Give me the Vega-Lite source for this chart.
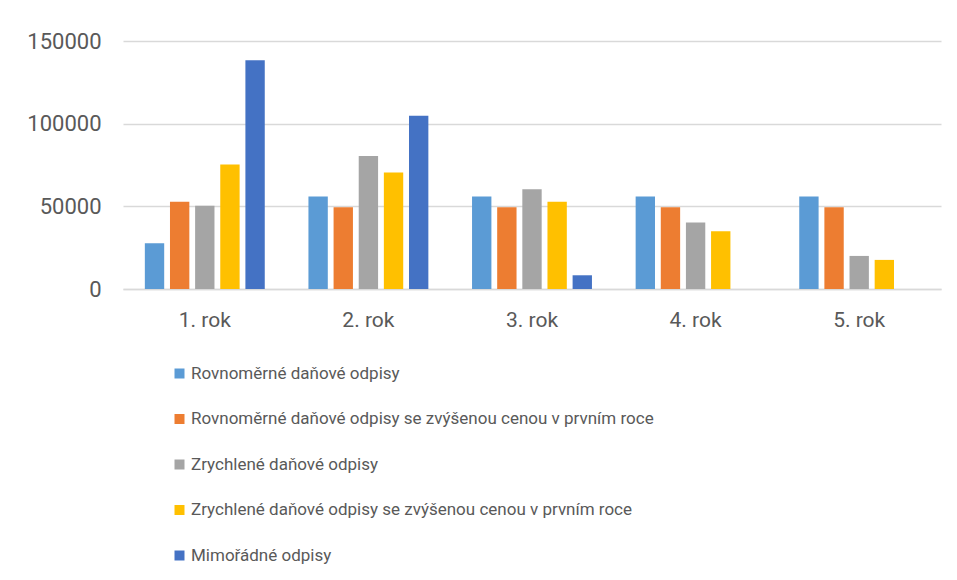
{
  "$schema": "https://vega.github.io/schema/vega-lite/v6.json",
  "width": 818,
  "height": 248,
  "autosize": {"type": "none"},
  "padding": {"left": 123, "top": 41, "right": 16, "bottom": 291},
  "background": "white",
  "config": {
    "view": {"stroke": null},
    "font": "Roboto, sans-serif"
  },
  "data": {
    "values": [
      {"rok": "1. rok", "serie": "Rovnoměrné daňové odpisy", "hodnota": 27600},
      {"rok": "1. rok", "serie": "Rovnoměrné daňové odpisy se zvýšenou cenou v prvním roce", "hodnota": 52700},
      {"rok": "1. rok", "serie": "Zrychlené daňové odpisy", "hodnota": 50300},
      {"rok": "1. rok", "serie": "Zrychlené daňové odpisy se zvýšenou cenou v prvním roce", "hodnota": 75300},
      {"rok": "1. rok", "serie": "Mimořádné odpisy", "hodnota": 138300},
      {"rok": "2. rok", "serie": "Rovnoměrné daňové odpisy", "hodnota": 55900},
      {"rok": "2. rok", "serie": "Rovnoměrné daňové odpisy se zvýšenou cenou v prvním roce", "hodnota": 49500},
      {"rok": "2. rok", "serie": "Zrychlené daňové odpisy", "hodnota": 80500},
      {"rok": "2. rok", "serie": "Zrychlené daňové odpisy se zvýšenou cenou v prvním roce", "hodnota": 70500},
      {"rok": "2. rok", "serie": "Mimořádné odpisy", "hodnota": 104800},
      {"rok": "3. rok", "serie": "Rovnoměrné daňové odpisy", "hodnota": 55900},
      {"rok": "3. rok", "serie": "Rovnoměrné daňové odpisy se zvýšenou cenou v prvním roce", "hodnota": 49500},
      {"rok": "3. rok", "serie": "Zrychlené daňové odpisy", "hodnota": 60300},
      {"rok": "3. rok", "serie": "Zrychlené daňové odpisy se zvýšenou cenou v prvním roce", "hodnota": 52700},
      {"rok": "3. rok", "serie": "Mimořádné odpisy", "hodnota": 8300},
      {"rok": "4. rok", "serie": "Rovnoměrné daňové odpisy", "hodnota": 55900},
      {"rok": "4. rok", "serie": "Rovnoměrné daňové odpisy se zvýšenou cenou v prvním roce", "hodnota": 49500},
      {"rok": "4. rok", "serie": "Zrychlené daňové odpisy", "hodnota": 40200},
      {"rok": "4. rok", "serie": "Zrychlené daňové odpisy se zvýšenou cenou v prvním roce", "hodnota": 34900},
      {"rok": "4. rok", "serie": "Mimořádné odpisy", "hodnota": 0},
      {"rok": "5. rok", "serie": "Rovnoměrné daňové odpisy", "hodnota": 55900},
      {"rok": "5. rok", "serie": "Rovnoměrné daňové odpisy se zvýšenou cenou v prvním roce", "hodnota": 49500},
      {"rok": "5. rok", "serie": "Zrychlené daňové odpisy", "hodnota": 20000},
      {"rok": "5. rok", "serie": "Zrychlené daňové odpisy se zvýšenou cenou v prvním roce", "hodnota": 17600},
      {"rok": "5. rok", "serie": "Mimořádné odpisy", "hodnota": 0}
    ]
  },
  "mark": {"type": "bar"},
  "encoding": {
    "x": {
      "field": "rok",
      "type": "nominal",
      "scale": {"paddingInner": 0.267, "paddingOuter": 0.1335},
      "axis": {
        "title": null,
        "labelAngle": 0,
        "ticks": false,
        "domainColor": "#d9d9d9",
        "domainWidth": 1.5,
        "labelColor": "#595959",
        "labelFontSize": 21,
        "labelPadding": 20
      }
    },
    "xOffset": {
      "field": "serie",
      "type": "nominal",
      "sort": [
        "Rovnoměrné daňové odpisy",
        "Rovnoměrné daňové odpisy se zvýšenou cenou v prvním roce",
        "Zrychlené daňové odpisy",
        "Zrychlené daňové odpisy se zvýšenou cenou v prvním roce",
        "Mimořádné odpisy"
      ],
      "scale": {"paddingInner": 0.23, "paddingOuter": 0}
    },
    "y": {
      "field": "hodnota",
      "type": "quantitative",
      "scale": {"domain": [0, 150000], "nice": false},
      "axis": {
        "title": null,
        "values": [0, 50000, 100000, 150000],
        "format": "d",
        "domain": false,
        "ticks": false,
        "gridColor": "#d9d9d9",
        "gridWidth": 1.5,
        "labelColor": "#595959",
        "labelFontSize": 22,
        "labelPadding": 22
      }
    },
    "color": {
      "field": "serie",
      "type": "nominal",
      "scale": {
        "domain": [
          "Rovnoměrné daňové odpisy",
          "Rovnoměrné daňové odpisy se zvýšenou cenou v prvním roce",
          "Zrychlené daňové odpisy",
          "Zrychlené daňové odpisy se zvýšenou cenou v prvním roce",
          "Mimořádné odpisy"
        ],
        "range": ["#5B9BD5", "#ED7D31", "#A5A5A5", "#FFC000", "#4472C4"]
      },
      "legend": {
        "title": null,
        "orient": "none",
        "direction": "vertical",
        "legendX": 48,
        "legendY": 324,
        "symbolType": "square",
        "symbolSize": 100,
        "symbolStrokeWidth": 0,
        "labelFontSize": 17,
        "labelColor": "#595959",
        "labelOffset": 3,
        "labelLimit": 800,
        "rowPadding": 27.5
      }
    }
  }
}
